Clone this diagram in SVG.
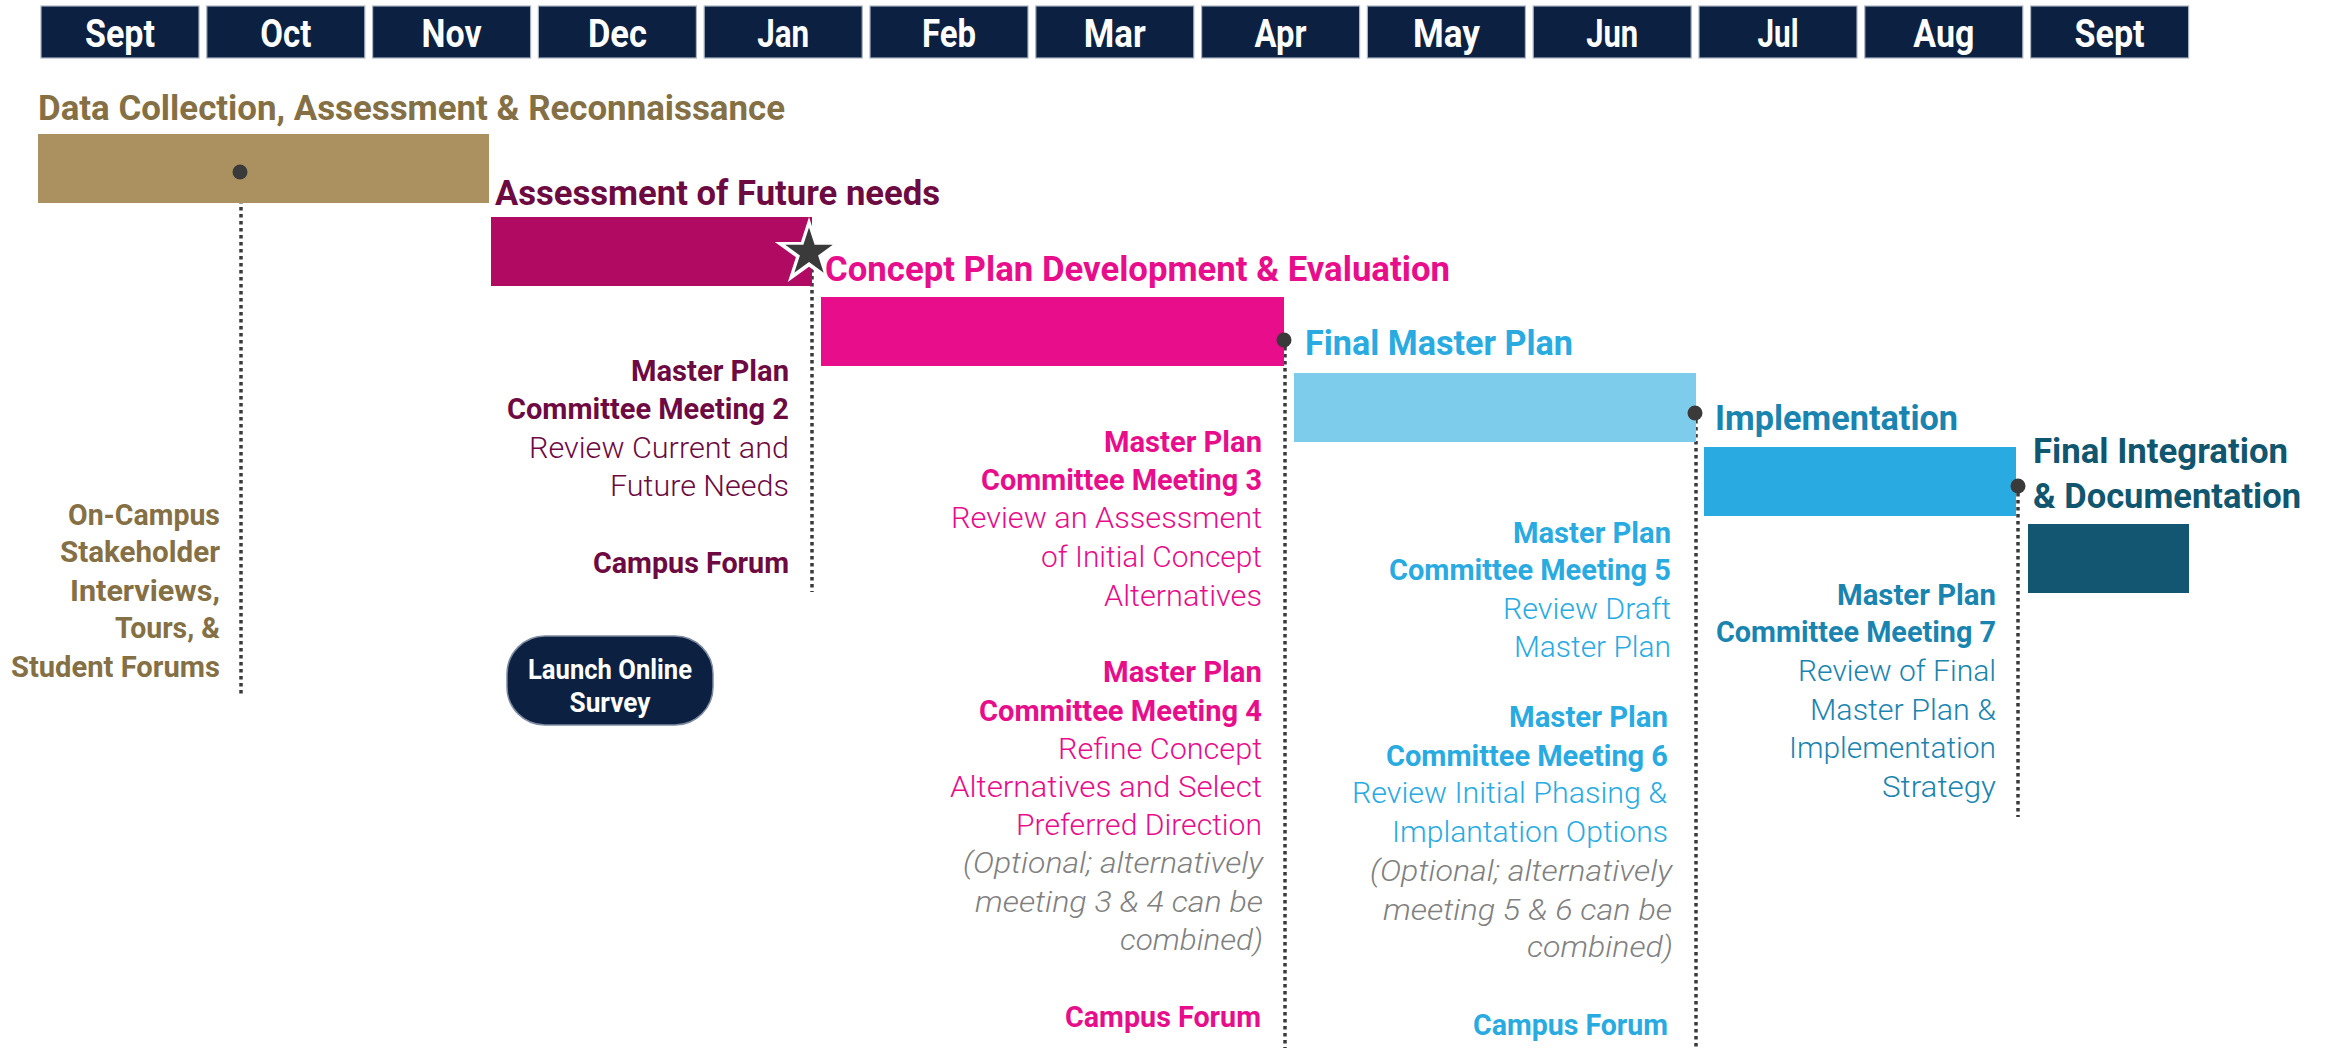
<svg xmlns="http://www.w3.org/2000/svg" xmlns:xlink="http://www.w3.org/1999/xlink" width="2328" height="1048" viewBox="0 0 2328 1048">
<defs>
<style>
text { font-family: Roboto, "Liberation Sans", "DejaVu Sans", sans-serif; }
.mo { fill:#0c2142; stroke:#a9b3c3; stroke-width:1.2; }
.mt { fill:#ffffff; font-weight:700; font-size:39px; text-anchor:middle; }
.h { font-weight:700; font-size:35px; }
.b { font-weight:700; font-size:30px; text-anchor:end; }
.l { font-weight:300; font-size:30px; text-anchor:end; }
.i { font-weight:300; font-style:italic; font-size:30px; text-anchor:end; fill:#808080; }
.dot { fill:#3a3a3a; }
.dl { stroke:#3a3a3a; stroke-width:3.5; stroke-dasharray:3.5 3.5; fill:none; }
</style>
<polygon id="star" points="0,-1 0.2245,-0.309 0.951,-0.309 0.3633,0.118 0.5878,0.809 0,0.382 -0.5878,0.809 -0.3633,0.118 -0.951,-0.309 -0.2245,-0.309"/>
</defs>
<rect width="2328" height="1048" fill="#ffffff"/>

<g id="months">
<rect class="mo" x="41" y="6" width="158" height="52"/><text class="mt" x="120" y="47" textLength="70" lengthAdjust="spacingAndGlyphs">Sept</text>
<rect class="mo" x="206.8" y="6" width="158" height="52"/><text class="mt" x="285.8" y="47" textLength="51" lengthAdjust="spacingAndGlyphs">Oct</text>
<rect class="mo" x="372.6" y="6" width="158" height="52"/><text class="mt" x="451.6" y="47" textLength="60" lengthAdjust="spacingAndGlyphs">Nov</text>
<rect class="mo" x="538.4" y="6" width="158" height="52"/><text class="mt" x="617.4" y="47" textLength="59" lengthAdjust="spacingAndGlyphs">Dec</text>
<rect class="mo" x="704.2" y="6" width="158" height="52"/><text class="mt" x="783.2" y="47" textLength="52" lengthAdjust="spacingAndGlyphs">Jan</text>
<rect class="mo" x="870" y="6" width="158" height="52"/><text class="mt" x="949" y="47" textLength="54" lengthAdjust="spacingAndGlyphs">Feb</text>
<rect class="mo" x="1035.8" y="6" width="158" height="52"/><text class="mt" x="1114.8" y="47" textLength="62" lengthAdjust="spacingAndGlyphs">Mar</text>
<rect class="mo" x="1201.6" y="6" width="158" height="52"/><text class="mt" x="1280.6" y="47" textLength="52" lengthAdjust="spacingAndGlyphs">Apr</text>
<rect class="mo" x="1367.4" y="6" width="158" height="52"/><text class="mt" x="1446.4" y="47" textLength="67" lengthAdjust="spacingAndGlyphs">May</text>
<rect class="mo" x="1533.2" y="6" width="158" height="52"/><text class="mt" x="1612.2" y="47" textLength="52" lengthAdjust="spacingAndGlyphs">Jun</text>
<rect class="mo" x="1699" y="6" width="158" height="52"/><text class="mt" x="1778" y="47" textLength="41" lengthAdjust="spacingAndGlyphs">Jul</text>
<rect class="mo" x="1864.8" y="6" width="158" height="52"/><text class="mt" x="1943.8" y="47" textLength="61" lengthAdjust="spacingAndGlyphs">Aug</text>
<rect class="mo" x="2030.6" y="6" width="158" height="52"/><text class="mt" x="2109.6" y="47" textLength="70" lengthAdjust="spacingAndGlyphs">Sept</text>
</g>

<g id="connectors">
<line class="dl" x1="241" y1="172" x2="241" y2="695"/>
<line class="dl" x1="812" y1="262" x2="812" y2="592"/>
<line class="dl" x1="1285" y1="340" x2="1285" y2="1048"/>
<line class="dl" x1="1696" y1="413" x2="1696" y2="1048"/>
<line class="dl" x1="2018" y1="486" x2="2018" y2="817"/>
</g>

<g id="phase-data">
<rect x="38" y="134" width="451" height="69" fill="#ab9160"/>
<circle class="dot" cx="240" cy="172" r="7.5"/>
<text class="h" x="38" y="120" fill="#857045" textLength="747" lengthAdjust="spacingAndGlyphs">Data Collection, Assessment &amp; Reconnaissance</text>
</g>

<g id="phase-assessment">
<rect x="491" y="217" width="321" height="69" fill="#b00a62"/>
<text class="h" x="495" y="205" fill="#6e0a42" textLength="445" lengthAdjust="spacingAndGlyphs">Assessment of Future needs</text>
</g>

<g id="milestone-star">
<use xlink:href="#star" href="#star" transform="translate(809,253) scale(36)" fill="#ffffff"/>
<use xlink:href="#star" href="#star" transform="translate(809,252.5) scale(25)" fill="#3a3a3a"/>
</g>

<g id="phase-concept">
<rect x="821" y="297" width="463" height="69" fill="#e80d8a"/>
<circle class="dot" cx="1284" cy="340" r="7.5"/>
<text class="h" x="825" y="281" fill="#e80d8a" textLength="625" lengthAdjust="spacingAndGlyphs">Concept Plan Development &amp; Evaluation</text>
</g>

<g id="phase-final-master-plan">
<rect x="1294" y="373" width="402" height="69" fill="#7ecceb"/>
<circle class="dot" cx="1695" cy="413" r="7.5"/>
<text class="h" x="1305" y="355" fill="#29abe2" textLength="268" lengthAdjust="spacingAndGlyphs">Final Master Plan</text>
</g>

<g id="phase-implementation">
<rect x="1704" y="447" width="312" height="69" fill="#29abe2"/>
<circle class="dot" cx="2018" cy="486" r="7.5"/>
<text class="h" x="1715" y="430" fill="#1a84b0" textLength="243" lengthAdjust="spacingAndGlyphs">Implementation</text>
</g>

<g id="phase-final-integration">
<rect x="2028" y="524" width="161" height="69" fill="#125672"/>
<text class="h" x="2033" y="463" fill="#11566f" textLength="255" lengthAdjust="spacingAndGlyphs">Final Integration</text>
<text class="h" x="2033" y="508" fill="#11566f" textLength="268" lengthAdjust="spacingAndGlyphs">&amp; Documentation</text>
</g>

<g id="note-stakeholder" fill="#857045">
<text class="b" x="220" y="525" textLength="152" lengthAdjust="spacingAndGlyphs">On-Campus</text>
<text class="b" x="220" y="562" textLength="160" lengthAdjust="spacingAndGlyphs">Stakeholder</text>
<text class="b" x="220" y="601" textLength="150" lengthAdjust="spacingAndGlyphs">Interviews,</text>
<text class="b" x="220" y="638" textLength="105" lengthAdjust="spacingAndGlyphs">Tours, &amp;</text>
<text class="b" x="220" y="677" textLength="209" lengthAdjust="spacingAndGlyphs">Student Forums</text>
</g>

<g id="note-meeting2" fill="#6e0a42">
<text class="b" x="789" y="381" textLength="158" lengthAdjust="spacingAndGlyphs">Master Plan</text>
<text class="b" x="789" y="419" textLength="282" lengthAdjust="spacingAndGlyphs">Committee Meeting 2</text>
<text class="l" x="789" y="458" textLength="260" lengthAdjust="spacingAndGlyphs">Review Current and</text>
<text class="l" x="789" y="496" textLength="179" lengthAdjust="spacingAndGlyphs">Future Needs</text>
<text class="b" x="789" y="573" textLength="196" lengthAdjust="spacingAndGlyphs">Campus Forum</text>
</g>

<g id="launch-survey">
<rect x="507" y="636" width="206" height="89" rx="38" ry="38" fill="#0c2142" stroke="#7d8aa0" stroke-width="1.5"/>
<text x="610" y="679" fill="#ffffff" font-weight="700" font-size="28" text-anchor="middle" textLength="164" lengthAdjust="spacingAndGlyphs">Launch Online</text>
<text x="610" y="712" fill="#ffffff" font-weight="700" font-size="28" text-anchor="middle" textLength="81" lengthAdjust="spacingAndGlyphs">Survey</text>
</g>

<g id="note-meeting3-4" fill="#e80d8a">
<text class="b" x="1262" y="452" textLength="158" lengthAdjust="spacingAndGlyphs">Master Plan</text>
<text class="b" x="1262" y="490" textLength="281" lengthAdjust="spacingAndGlyphs">Committee Meeting 3</text>
<text class="l" x="1262" y="528" textLength="311" lengthAdjust="spacingAndGlyphs">Review an Assessment</text>
<text class="l" x="1262" y="567" textLength="221" lengthAdjust="spacingAndGlyphs">of Initial Concept</text>
<text class="l" x="1262" y="606" textLength="158" lengthAdjust="spacingAndGlyphs">Alternatives</text>
<text class="b" x="1262" y="682" textLength="159" lengthAdjust="spacingAndGlyphs">Master Plan</text>
<text class="b" x="1262" y="721" textLength="283" lengthAdjust="spacingAndGlyphs">Committee Meeting 4</text>
<text class="l" x="1262" y="759" textLength="204" lengthAdjust="spacingAndGlyphs">Refine Concept</text>
<text class="l" x="1262" y="797" textLength="312" lengthAdjust="spacingAndGlyphs">Alternatives and Select</text>
<text class="l" x="1262" y="835" textLength="246" lengthAdjust="spacingAndGlyphs">Preferred Direction</text>
<text class="i" x="1263" y="873" textLength="300" lengthAdjust="spacingAndGlyphs">(Optional; alternatively</text>
<text class="i" x="1263" y="912" textLength="288" lengthAdjust="spacingAndGlyphs">meeting 3 &amp; 4 can be</text>
<text class="i" x="1263" y="950" textLength="143" lengthAdjust="spacingAndGlyphs">combined)</text>
<text class="b" x="1261" y="1027" textLength="196" lengthAdjust="spacingAndGlyphs">Campus Forum</text>
</g>

<g id="note-meeting5-6" fill="#29abe2">
<text class="b" x="1671" y="543" textLength="158" lengthAdjust="spacingAndGlyphs">Master Plan</text>
<text class="b" x="1671" y="580" textLength="282" lengthAdjust="spacingAndGlyphs">Committee Meeting 5</text>
<text class="l" x="1671" y="619" textLength="168" lengthAdjust="spacingAndGlyphs">Review Draft</text>
<text class="l" x="1671" y="657" textLength="157" lengthAdjust="spacingAndGlyphs">Master Plan</text>
<text class="b" x="1668" y="727" textLength="159" lengthAdjust="spacingAndGlyphs">Master Plan</text>
<text class="b" x="1668" y="766" textLength="282" lengthAdjust="spacingAndGlyphs">Committee Meeting 6</text>
<text class="l" x="1667" y="803" textLength="315" lengthAdjust="spacingAndGlyphs">Review Initial Phasing &amp;</text>
<text class="l" x="1668" y="842" textLength="276" lengthAdjust="spacingAndGlyphs">Implantation Options</text>
<text class="i" x="1672" y="881" textLength="302" lengthAdjust="spacingAndGlyphs">(Optional; alternatively</text>
<text class="i" x="1672" y="920" textLength="289" lengthAdjust="spacingAndGlyphs">meeting 5 &amp; 6 can be</text>
<text class="i" x="1673" y="957" textLength="146" lengthAdjust="spacingAndGlyphs">combined)</text>
<text class="b" x="1668" y="1035" textLength="195" lengthAdjust="spacingAndGlyphs">Campus Forum</text>
</g>

<g id="note-meeting7" fill="#1a84b0">
<text class="b" x="1996" y="605" textLength="159" lengthAdjust="spacingAndGlyphs">Master Plan</text>
<text class="b" x="1996" y="642" textLength="280" lengthAdjust="spacingAndGlyphs">Committee Meeting 7</text>
<text class="l" x="1996" y="681" textLength="198" lengthAdjust="spacingAndGlyphs">Review of Final</text>
<text class="l" x="1996" y="720" textLength="186" lengthAdjust="spacingAndGlyphs">Master Plan &amp;</text>
<text class="l" x="1996" y="758" textLength="207" lengthAdjust="spacingAndGlyphs">Implementation</text>
<text class="l" x="1996" y="797" textLength="114" lengthAdjust="spacingAndGlyphs">Strategy</text>
</g>
</svg>
